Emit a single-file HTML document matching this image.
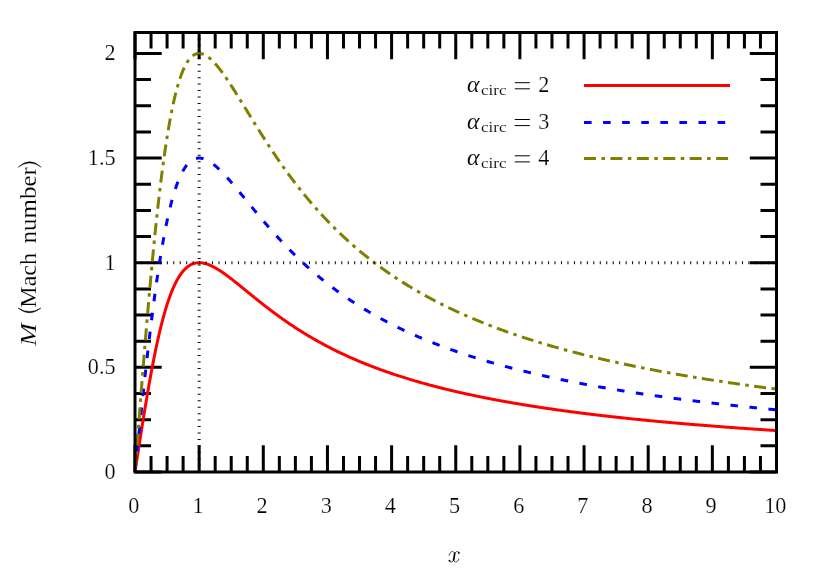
<!DOCTYPE html>
<html><head><meta charset="utf-8"><title>Mach number</title>
<style>
html,body{margin:0;padding:0;background:#fff;}
body{width:830px;height:580px;overflow:hidden;}
svg{display:block;}
text{font-family:"Liberation Serif",serif;font-size:22.2px;fill:#000;stroke:#fff;stroke-width:0.2px;}
</style></head><body>
<svg width="830" height="580" viewBox="0 0 830 580">
<rect width="830" height="580" fill="#fff"/>
<path d="M135.00 472.0 v-26.7 M135.00 32.5 v26.7 M151.04 472.0 v-16 M151.04 32.5 v16 M167.07 472.0 v-16 M167.07 32.5 v16 M183.11 472.0 v-16 M183.11 32.5 v16 M199.15 472.0 v-26.7 M199.15 32.5 v26.7 M215.19 472.0 v-16 M215.19 32.5 v16 M231.22 472.0 v-16 M231.22 32.5 v16 M247.26 472.0 v-16 M247.26 32.5 v16 M263.30 472.0 v-26.7 M263.30 32.5 v26.7 M279.34 472.0 v-16 M279.34 32.5 v16 M295.38 472.0 v-16 M295.38 32.5 v16 M311.41 472.0 v-16 M311.41 32.5 v16 M327.45 472.0 v-26.7 M327.45 32.5 v26.7 M343.49 472.0 v-16 M343.49 32.5 v16 M359.52 472.0 v-16 M359.52 32.5 v16 M375.56 472.0 v-16 M375.56 32.5 v16 M391.60 472.0 v-26.7 M391.60 32.5 v26.7 M407.64 472.0 v-16 M407.64 32.5 v16 M423.68 472.0 v-16 M423.68 32.5 v16 M439.71 472.0 v-16 M439.71 32.5 v16 M455.75 472.0 v-26.7 M455.75 32.5 v26.7 M471.79 472.0 v-16 M471.79 32.5 v16 M487.82 472.0 v-16 M487.82 32.5 v16 M503.86 472.0 v-16 M503.86 32.5 v16 M519.90 472.0 v-26.7 M519.90 32.5 v26.7 M535.94 472.0 v-16 M535.94 32.5 v16 M551.98 472.0 v-16 M551.98 32.5 v16 M568.01 472.0 v-16 M568.01 32.5 v16 M584.05 472.0 v-26.7 M584.05 32.5 v26.7 M600.09 472.0 v-16 M600.09 32.5 v16 M616.12 472.0 v-16 M616.12 32.5 v16 M632.16 472.0 v-16 M632.16 32.5 v16 M648.20 472.0 v-26.7 M648.20 32.5 v26.7 M664.24 472.0 v-16 M664.24 32.5 v16 M680.27 472.0 v-16 M680.27 32.5 v16 M696.31 472.0 v-16 M696.31 32.5 v16 M712.35 472.0 v-26.7 M712.35 32.5 v26.7 M728.39 472.0 v-16 M728.39 32.5 v16 M744.42 472.0 v-16 M744.42 32.5 v16 M760.46 472.0 v-16 M760.46 32.5 v16 M776.50 472.0 v-26.7 M776.50 32.5 v26.7 M135.0 472.00 h26.7 M776.5 472.00 h-26.7 M135.0 445.84 h16 M776.5 445.84 h-16 M135.0 419.68 h16 M776.5 419.68 h-16 M135.0 393.52 h16 M776.5 393.52 h-16 M135.0 367.36 h26.7 M776.5 367.36 h-26.7 M135.0 341.20 h16 M776.5 341.20 h-16 M135.0 315.04 h16 M776.5 315.04 h-16 M135.0 288.88 h16 M776.5 288.88 h-16 M135.0 262.71 h26.7 M776.5 262.71 h-26.7 M135.0 236.55 h16 M776.5 236.55 h-16 M135.0 210.39 h16 M776.5 210.39 h-16 M135.0 184.23 h16 M776.5 184.23 h-16 M135.0 158.07 h26.7 M776.5 158.07 h-26.7 M135.0 131.91 h16 M776.5 131.91 h-16 M135.0 105.75 h16 M776.5 105.75 h-16 M135.0 79.59 h16 M776.5 79.59 h-16 M135.0 53.43 h26.7 M776.5 53.43 h-26.7" stroke="#000" stroke-width="3" fill="none"/>
<polyline points="135.00,472.00 135.80,466.77 136.60,461.54 137.41,456.33 138.21,451.12 139.01,445.94 139.81,440.78 140.61,435.65 141.41,430.56 142.22,425.50 143.02,420.48 143.82,415.51 144.62,410.60 145.42,405.73 146.23,400.93 147.03,396.18 147.83,391.51 148.63,386.90 149.43,382.36 150.24,377.90 151.04,373.51 151.84,369.21 152.64,364.99 153.44,360.85 154.25,356.80 155.05,352.83 155.85,348.96 156.65,345.18 157.45,341.49 158.25,337.89 159.06,334.39 159.86,330.98 160.66,327.67 161.46,324.45 162.26,321.32 163.07,318.30 163.87,315.36 164.67,312.52 165.47,309.78 166.27,307.13 167.07,304.57 167.88,302.11 168.68,299.73 169.48,297.45 170.28,295.25 171.08,293.14 171.89,291.12 172.69,289.19 173.49,287.34 174.29,285.57 175.09,283.88 175.90,282.27 176.70,280.74 177.50,279.28 178.30,277.90 179.10,276.59 179.91,275.36 180.71,274.19 181.51,273.09 182.31,272.05 183.11,271.09 183.91,270.18 184.72,269.33 185.52,268.55 186.32,267.82 187.12,267.15 187.92,266.53 188.73,265.96 189.53,265.45 190.33,264.98 191.13,264.57 191.93,264.20 192.74,263.87 193.54,263.59 194.34,263.35 195.14,263.15 195.94,262.99 196.74,262.87 197.55,262.78 198.35,262.73 199.15,262.71 199.95,262.73 200.75,262.78 201.56,262.86 202.36,262.96 203.16,263.10 203.96,263.26 204.76,263.45 205.56,263.66 206.37,263.90 207.17,264.16 207.97,264.44 208.77,264.74 209.57,265.06 210.38,265.41 211.18,265.77 211.98,266.15 212.78,266.54 213.58,266.95 214.39,267.38 215.19,267.82 215.99,268.27 216.79,268.74 217.59,269.22 218.40,269.72 219.20,270.22 220.00,270.74 220.80,271.26 221.60,271.80 222.40,272.34 223.21,272.90 224.01,273.46 224.81,274.03 225.61,274.60 226.41,275.19 227.22,275.78 228.02,276.37 228.82,276.98 229.62,277.58 230.42,278.20 231.22,278.81 232.03,279.43 232.83,280.06 233.63,280.69 234.43,281.32 235.23,281.96 236.04,282.59 236.84,283.24 237.64,283.88 238.44,284.52 239.24,285.17 240.05,285.82 240.85,286.47 241.65,287.12 242.45,287.77 243.25,288.42 244.06,289.08 244.86,289.73 245.66,290.38 246.46,291.04 247.26,291.69 248.06,292.35 248.87,293.00 249.67,293.65 250.47,294.30 251.27,294.96 252.07,295.61 252.88,296.26 253.68,296.91 254.48,297.55 255.28,298.20 256.08,298.84 256.88,299.49 257.69,300.13 258.49,300.77 259.29,301.41 260.09,302.04 260.89,302.68 261.70,303.31 262.50,303.94 263.30,304.57 264.10,305.20 264.90,305.82 265.71,306.45 266.51,307.07 267.31,307.68 268.11,308.30 268.91,308.91 269.72,309.52 270.52,310.13 271.32,310.74 272.12,311.34 272.92,311.94 273.72,312.54 274.53,313.14 275.33,313.73 276.13,314.32 276.93,314.91 277.73,315.49 278.54,316.07 279.34,316.65 280.14,317.23 280.94,317.81 281.74,318.38 282.54,318.95 283.35,319.51 284.15,320.07 284.95,320.63 285.75,321.19 286.55,321.75 287.36,322.30 288.16,322.85 288.96,323.39 289.76,323.94 290.56,324.48 291.37,325.02 292.17,325.55 292.97,326.08 293.77,326.61 294.57,327.14 295.38,327.67 296.18,328.19 296.98,328.70 297.78,329.22 298.58,329.73 299.38,330.24 300.19,330.75 300.99,331.26 301.79,331.76 302.59,332.26 303.39,332.75 304.20,333.25 305.00,333.74 305.80,334.23 306.60,334.71 307.40,335.19 308.21,335.67 309.01,336.15 309.81,336.63 310.61,337.10 311.41,337.57 312.21,338.04 313.02,338.50 313.82,338.96 314.62,339.42 315.42,339.88 316.22,340.33 317.03,340.78 317.83,341.23 318.63,341.68 319.43,342.12 320.23,342.56 321.03,343.00 321.84,343.44 322.64,343.87 323.44,344.31 324.24,344.74 325.04,345.16 325.85,345.59 326.65,346.01 327.45,346.43 328.25,346.85 329.05,347.26 329.86,347.67 330.66,348.08 331.46,348.49 332.26,348.90 333.06,349.30 333.87,349.70 334.67,350.10 335.47,350.50 336.27,350.89 337.07,351.29 337.87,351.68 338.68,352.06 339.48,352.45 340.28,352.83 341.08,353.22 341.88,353.59 342.69,353.97 343.49,354.35 344.29,354.72 345.09,355.09 345.89,355.46 346.69,355.83 347.50,356.19 348.30,356.56 349.10,356.92 349.90,357.28 350.70,357.63 351.51,357.99 352.31,358.34 353.11,358.69 353.91,359.04 354.71,359.39 355.52,359.73 356.32,360.08 357.12,360.42 357.92,360.76 358.72,361.10 359.52,361.43 360.33,361.77 361.13,362.10 361.93,362.43 362.73,362.76 363.53,363.09 364.34,363.41 365.14,363.74 365.94,364.06 366.74,364.38 367.54,364.70 368.35,365.01 369.15,365.33 369.95,365.64 370.75,365.95 371.55,366.27 372.36,366.57 373.16,366.88 373.96,367.19 374.76,367.49 375.56,367.79 376.36,368.09 377.17,368.39 377.97,368.69 378.77,368.98 379.57,369.28 380.37,369.57 381.18,369.86 381.98,370.15 382.78,370.44 383.58,370.73 384.38,371.01 385.19,371.29 385.99,371.58 386.79,371.86 387.59,372.14 388.39,372.42 389.19,372.69 390.00,372.97 390.80,373.24 391.60,373.51 392.40,373.78 393.20,374.05 394.01,374.32 394.81,374.59 395.61,374.85 396.41,375.12 397.21,375.38 398.01,375.64 398.82,375.90 399.62,376.16 400.42,376.42 401.22,376.67 402.02,376.93 402.83,377.18 403.63,377.44 404.43,377.69 405.23,377.94 406.03,378.19 406.84,378.43 407.64,378.68 408.44,378.92 409.24,379.17 410.04,379.41 410.84,379.65 411.65,379.89 412.45,380.13 413.25,380.37 414.05,380.61 414.85,380.84 415.66,381.08 416.46,381.31 417.26,381.54 418.06,381.77 418.86,382.00 419.67,382.23 420.47,382.46 421.27,382.69 422.07,382.91 422.87,383.14 423.68,383.36 424.48,383.58 425.28,383.81 426.08,384.03 426.88,384.25 427.68,384.46 428.49,384.68 429.29,384.90 430.09,385.11 430.89,385.33 431.69,385.54 432.50,385.75 433.30,385.96 434.10,386.17 434.90,386.38 435.70,386.59 436.50,386.80 437.31,387.01 438.11,387.21 438.91,387.42 439.71,387.62 440.51,387.82 441.32,388.02 442.12,388.23 442.92,388.43 443.72,388.62 444.52,388.82 445.33,389.02 446.13,389.22 446.93,389.41 447.73,389.61 448.53,389.80 449.34,389.99 450.14,390.18 450.94,390.38 451.74,390.57 452.54,390.76 453.34,390.94 454.15,391.13 454.95,391.32 455.75,391.51 456.55,391.69 457.35,391.88 458.16,392.06 458.96,392.24 459.76,392.42 460.56,392.61 461.36,392.79 462.16,392.97 462.97,393.14 463.77,393.32 464.57,393.50 465.37,393.68 466.17,393.85 466.98,394.03 467.78,394.20 468.58,394.38 469.38,394.55 470.18,394.72 470.99,394.89 471.79,395.06 472.59,395.23 473.39,395.40 474.19,395.57 475.00,395.74 475.80,395.91 476.60,396.07 477.40,396.24 478.20,396.40 479.00,396.57 479.81,396.73 480.61,396.89 481.41,397.06 482.21,397.22 483.01,397.38 483.82,397.54 484.62,397.70 485.42,397.86 486.22,398.02 487.02,398.17 487.82,398.33 488.63,398.49 489.43,398.64 490.23,398.80 491.03,398.95 491.83,399.11 492.64,399.26 493.44,399.41 494.24,399.56 495.04,399.72 495.84,399.87 496.65,400.02 497.45,400.17 498.25,400.32 499.05,400.46 499.85,400.61 500.66,400.76 501.46,400.91 502.26,401.05 503.06,401.20 503.86,401.34 504.66,401.49 505.47,401.63 506.27,401.77 507.07,401.92 507.87,402.06 508.67,402.20 509.48,402.34 510.28,402.48 511.08,402.62 511.88,402.76 512.68,402.90 513.49,403.04 514.29,403.17 515.09,403.31 515.89,403.45 516.69,403.58 517.49,403.72 518.30,403.85 519.10,403.99 519.90,404.12 520.70,404.26 521.50,404.39 522.31,404.52 523.11,404.65 523.91,404.79 524.71,404.92 525.51,405.05 526.31,405.18 527.12,405.31 527.92,405.44 528.72,405.56 529.52,405.69 530.32,405.82 531.13,405.95 531.93,406.07 532.73,406.20 533.53,406.33 534.33,406.45 535.14,406.58 535.94,406.70 536.74,406.82 537.54,406.95 538.34,407.07 539.14,407.19 539.95,407.31 540.75,407.44 541.55,407.56 542.35,407.68 543.15,407.80 543.96,407.92 544.76,408.04 545.56,408.16 546.36,408.28 547.16,408.39 547.97,408.51 548.77,408.63 549.57,408.75 550.37,408.86 551.17,408.98 551.98,409.09 552.78,409.21 553.58,409.32 554.38,409.44 555.18,409.55 555.98,409.67 556.79,409.78 557.59,409.89 558.39,410.00 559.19,410.12 559.99,410.23 560.80,410.34 561.60,410.45 562.40,410.56 563.20,410.67 564.00,410.78 564.81,410.89 565.61,411.00 566.41,411.11 567.21,411.21 568.01,411.32 568.81,411.43 569.62,411.54 570.42,411.64 571.22,411.75 572.02,411.85 572.82,411.96 573.63,412.06 574.43,412.17 575.23,412.27 576.03,412.38 576.83,412.48 577.63,412.59 578.44,412.69 579.24,412.79 580.04,412.89 580.84,413.00 581.64,413.10 582.45,413.20 583.25,413.30 584.05,413.40 584.85,413.50 585.65,413.60 586.46,413.70 587.26,413.80 588.06,413.90 588.86,414.00 589.66,414.10 590.46,414.19 591.27,414.29 592.07,414.39 592.87,414.49 593.67,414.58 594.47,414.68 595.28,414.77 596.08,414.87 596.88,414.97 597.68,415.06 598.48,415.16 599.29,415.25 600.09,415.34 600.89,415.44 601.69,415.53 602.49,415.62 603.29,415.72 604.10,415.81 604.90,415.90 605.70,415.99 606.50,416.09 607.30,416.18 608.11,416.27 608.91,416.36 609.71,416.45 610.51,416.54 611.31,416.63 612.12,416.72 612.92,416.81 613.72,416.90 614.52,416.99 615.32,417.08 616.12,417.17 616.93,417.25 617.73,417.34 618.53,417.43 619.33,417.52 620.13,417.60 620.94,417.69 621.74,417.78 622.54,417.86 623.34,417.95 624.14,418.03 624.95,418.12 625.75,418.20 626.55,418.29 627.35,418.37 628.15,418.46 628.96,418.54 629.76,418.63 630.56,418.71 631.36,418.79 632.16,418.88 632.96,418.96 633.77,419.04 634.57,419.12 635.37,419.20 636.17,419.29 636.97,419.37 637.78,419.45 638.58,419.53 639.38,419.61 640.18,419.69 640.98,419.77 641.79,419.85 642.59,419.93 643.39,420.01 644.19,420.09 644.99,420.17 645.79,420.25 646.60,420.33 647.40,420.41 648.20,420.48 649.00,420.56 649.80,420.64 650.61,420.72 651.41,420.79 652.21,420.87 653.01,420.95 653.81,421.02 654.62,421.10 655.42,421.18 656.22,421.25 657.02,421.33 657.82,421.40 658.62,421.48 659.43,421.55 660.23,421.63 661.03,421.70 661.83,421.78 662.63,421.85 663.44,421.93 664.24,422.00 665.04,422.07 665.84,422.15 666.64,422.22 667.45,422.29 668.25,422.36 669.05,422.44 669.85,422.51 670.65,422.58 671.45,422.65 672.26,422.72 673.06,422.80 673.86,422.87 674.66,422.94 675.46,423.01 676.27,423.08 677.07,423.15 677.87,423.22 678.67,423.29 679.47,423.36 680.27,423.43 681.08,423.50 681.88,423.57 682.68,423.64 683.48,423.70 684.28,423.77 685.09,423.84 685.89,423.91 686.69,423.98 687.49,424.05 688.29,424.11 689.10,424.18 689.90,424.25 690.70,424.32 691.50,424.38 692.30,424.45 693.10,424.52 693.91,424.58 694.71,424.65 695.51,424.71 696.31,424.78 697.11,424.85 697.92,424.91 698.72,424.98 699.52,425.04 700.32,425.11 701.12,425.17 701.93,425.24 702.73,425.30 703.53,425.36 704.33,425.43 705.13,425.49 705.94,425.56 706.74,425.62 707.54,425.68 708.34,425.75 709.14,425.81 709.94,425.87 710.75,425.93 711.55,426.00 712.35,426.06 713.15,426.12 713.95,426.18 714.76,426.25 715.56,426.31 716.36,426.37 717.16,426.43 717.96,426.49 718.76,426.55 719.57,426.61 720.37,426.67 721.17,426.73 721.97,426.79 722.77,426.85 723.58,426.91 724.38,426.97 725.18,427.03 725.98,427.09 726.78,427.15 727.59,427.21 728.39,427.27 729.19,427.33 729.99,427.39 730.79,427.45 731.60,427.51 732.40,427.57 733.20,427.62 734.00,427.68 734.80,427.74 735.60,427.80 736.41,427.85 737.21,427.91 738.01,427.97 738.81,428.03 739.61,428.08 740.42,428.14 741.22,428.20 742.02,428.25 742.82,428.31 743.62,428.37 744.42,428.42 745.23,428.48 746.03,428.53 746.83,428.59 747.63,428.65 748.43,428.70 749.24,428.76 750.04,428.81 750.84,428.87 751.64,428.92 752.44,428.98 753.25,429.03 754.05,429.09 754.85,429.14 755.65,429.19 756.45,429.25 757.25,429.30 758.06,429.36 758.86,429.41 759.66,429.46 760.46,429.52 761.26,429.57 762.07,429.62 762.87,429.68 763.67,429.73 764.47,429.78 765.27,429.83 766.08,429.89 766.88,429.94 767.68,429.99 768.48,430.04 769.28,430.10 770.09,430.15 770.89,430.20 771.69,430.25 772.49,430.30 773.29,430.35 774.09,430.40 774.90,430.46 775.70,430.51 776.50,430.56" fill="none" stroke="#ff0000" stroke-width="3" stroke-linejoin="round" />
<polyline points="135.00,472.00 135.80,464.15 136.60,456.31 137.41,448.49 138.21,440.69 139.01,432.91 139.81,425.17 140.61,417.48 141.41,409.84 142.22,402.25 143.02,394.73 143.82,387.27 144.62,379.89 145.42,372.60 146.23,365.39 147.03,358.27 147.83,351.26 148.63,344.34 149.43,337.54 150.24,330.85 151.04,324.27 151.84,317.81 152.64,311.48 153.44,305.27 154.25,299.20 155.05,293.25 155.85,287.44 156.65,281.77 157.45,276.23 158.25,270.84 159.06,265.58 159.86,260.47 160.66,255.50 161.46,250.67 162.26,245.98 163.07,241.44 163.87,237.04 164.67,232.79 165.47,228.67 166.27,224.69 167.07,220.86 167.88,217.16 168.68,213.60 169.48,210.17 170.28,206.88 171.08,203.72 171.89,200.69 172.69,197.78 173.49,195.00 174.29,192.35 175.09,189.82 175.90,187.40 176.70,185.11 177.50,182.92 178.30,180.85 179.10,178.89 179.91,177.03 180.71,175.28 181.51,173.63 182.31,172.08 183.11,170.63 183.91,169.27 184.72,168.00 185.52,166.82 186.32,165.73 187.12,164.72 187.92,163.79 188.73,162.94 189.53,162.17 190.33,161.47 191.13,160.85 191.93,160.29 192.74,159.81 193.54,159.38 194.34,159.02 195.14,158.72 195.94,158.48 196.74,158.30 197.55,158.17 198.35,158.10 199.15,158.07 199.95,158.10 200.75,158.17 201.56,158.28 202.36,158.44 203.16,158.65 203.96,158.89 204.76,159.17 205.56,159.49 206.37,159.85 207.17,160.24 207.97,160.66 208.77,161.11 209.57,161.60 210.38,162.11 211.18,162.65 211.98,163.22 212.78,163.81 213.58,164.43 214.39,165.07 215.19,165.73 215.99,166.41 216.79,167.11 217.59,167.83 218.40,168.57 219.20,169.33 220.00,170.10 220.80,170.89 221.60,171.70 222.40,172.51 223.21,173.34 224.01,174.19 224.81,175.04 225.61,175.91 226.41,176.78 227.22,177.67 228.02,178.56 228.82,179.46 229.62,180.38 230.42,181.29 231.22,182.22 232.03,183.15 232.83,184.09 233.63,185.03 234.43,185.98 235.23,186.93 236.04,187.89 236.84,188.85 237.64,189.82 238.44,190.78 239.24,191.75 240.05,192.73 240.85,193.70 241.65,194.68 242.45,195.66 243.25,196.64 244.06,197.62 244.86,198.60 245.66,199.58 246.46,200.56 247.26,201.54 248.06,202.52 248.87,203.50 249.67,204.48 250.47,205.46 251.27,206.43 252.07,207.41 252.88,208.38 253.68,209.36 254.48,210.33 255.28,211.30 256.08,212.27 256.88,213.23 257.69,214.19 258.49,215.15 259.29,216.11 260.09,217.07 260.89,218.02 261.70,218.97 262.50,219.91 263.30,220.86 264.10,221.80 264.90,222.73 265.71,223.67 266.51,224.60 267.31,225.53 268.11,226.45 268.91,227.37 269.72,228.28 270.52,229.20 271.32,230.11 272.12,231.01 272.92,231.91 273.72,232.81 274.53,233.70 275.33,234.59 276.13,235.48 276.93,236.36 277.73,237.24 278.54,238.11 279.34,238.98 280.14,239.85 280.94,240.71 281.74,241.56 282.54,242.42 283.35,243.27 284.15,244.11 284.95,244.95 285.75,245.79 286.55,246.62 287.36,247.45 288.16,248.27 288.96,249.09 289.76,249.91 290.56,250.72 291.37,251.53 292.17,252.33 292.97,253.13 293.77,253.92 294.57,254.71 295.38,255.50 296.18,256.28 296.98,257.06 297.78,257.83 298.58,258.60 299.38,259.36 300.19,260.13 300.99,260.88 301.79,261.64 302.59,262.38 303.39,263.13 304.20,263.87 305.00,264.61 305.80,265.34 306.60,266.07 307.40,266.79 308.21,267.51 309.01,268.23 309.81,268.94 310.61,269.65 311.41,270.35 312.21,271.05 313.02,271.75 313.82,272.44 314.62,273.13 315.42,273.82 316.22,274.50 317.03,275.17 317.83,275.85 318.63,276.52 319.43,277.18 320.23,277.85 321.03,278.51 321.84,279.16 322.64,279.81 323.44,280.46 324.24,281.10 325.04,281.74 325.85,282.38 326.65,283.01 327.45,283.64 328.25,284.27 329.05,284.89 329.86,285.51 330.66,286.13 331.46,286.74 332.26,287.35 333.06,287.95 333.87,288.55 334.67,289.15 335.47,289.75 336.27,290.34 337.07,290.93 337.87,291.51 338.68,292.10 339.48,292.68 340.28,293.25 341.08,293.82 341.88,294.39 342.69,294.96 343.49,295.52 344.29,296.08 345.09,296.64 345.89,297.19 346.69,297.74 347.50,298.29 348.30,298.83 349.10,299.38 349.90,299.91 350.70,300.45 351.51,300.98 352.31,301.51 353.11,302.04 353.91,302.56 354.71,303.08 355.52,303.60 356.32,304.12 357.12,304.63 357.92,305.14 358.72,305.65 359.52,306.15 360.33,306.65 361.13,307.15 361.93,307.65 362.73,308.14 363.53,308.63 364.34,309.12 365.14,309.61 365.94,310.09 366.74,310.57 367.54,311.05 368.35,311.52 369.15,311.99 369.95,312.46 370.75,312.93 371.55,313.40 372.36,313.86 373.16,314.32 373.96,314.78 374.76,315.23 375.56,315.69 376.36,316.14 377.17,316.59 377.97,317.03 378.77,317.48 379.57,317.92 380.37,318.36 381.18,318.79 381.98,319.23 382.78,319.66 383.58,320.09 384.38,320.52 385.19,320.94 385.99,321.37 386.79,321.79 387.59,322.21 388.39,322.62 389.19,323.04 390.00,323.45 390.80,323.86 391.60,324.27 392.40,324.68 393.20,325.08 394.01,325.48 394.81,325.88 395.61,326.28 396.41,326.68 397.21,327.07 398.01,327.46 398.82,327.85 399.62,328.24 400.42,328.63 401.22,329.01 402.02,329.39 402.83,329.77 403.63,330.15 404.43,330.53 405.23,330.90 406.03,331.28 406.84,331.65 407.64,332.02 408.44,332.39 409.24,332.75 410.04,333.12 410.84,333.48 411.65,333.84 412.45,334.20 413.25,334.55 414.05,334.91 414.85,335.26 415.66,335.62 416.46,335.97 417.26,336.31 418.06,336.66 418.86,337.01 419.67,337.35 420.47,337.69 421.27,338.03 422.07,338.37 422.87,338.71 423.68,339.04 424.48,339.38 425.28,339.71 426.08,340.04 426.88,340.37 427.68,340.70 428.49,341.02 429.29,341.35 430.09,341.67 430.89,341.99 431.69,342.31 432.50,342.63 433.30,342.95 434.10,343.26 434.90,343.58 435.70,343.89 436.50,344.20 437.31,344.51 438.11,344.82 438.91,345.12 439.71,345.43 440.51,345.73 441.32,346.04 442.12,346.34 442.92,346.64 443.72,346.94 444.52,347.23 445.33,347.53 446.13,347.82 446.93,348.12 447.73,348.41 448.53,348.70 449.34,348.99 450.14,349.28 450.94,349.56 451.74,349.85 452.54,350.13 453.34,350.42 454.15,350.70 454.95,350.98 455.75,351.26 456.55,351.54 457.35,351.81 458.16,352.09 458.96,352.36 459.76,352.64 460.56,352.91 461.36,353.18 462.16,353.45 462.97,353.72 463.77,353.98 464.57,354.25 465.37,354.52 466.17,354.78 466.98,355.04 467.78,355.30 468.58,355.56 469.38,355.82 470.18,356.08 470.99,356.34 471.79,356.60 472.59,356.85 473.39,357.10 474.19,357.36 475.00,357.61 475.80,357.86 476.60,358.11 477.40,358.36 478.20,358.61 479.00,358.85 479.81,359.10 480.61,359.34 481.41,359.59 482.21,359.83 483.01,360.07 483.82,360.31 484.62,360.55 485.42,360.79 486.22,361.03 487.02,361.26 487.82,361.50 488.63,361.73 489.43,361.97 490.23,362.20 491.03,362.43 491.83,362.66 492.64,362.89 493.44,363.12 494.24,363.35 495.04,363.57 495.84,363.80 496.65,364.03 497.45,364.25 498.25,364.47 499.05,364.70 499.85,364.92 500.66,365.14 501.46,365.36 502.26,365.58 503.06,365.80 503.86,366.01 504.66,366.23 505.47,366.45 506.27,366.66 507.07,366.87 507.87,367.09 508.67,367.30 509.48,367.51 510.28,367.72 511.08,367.93 511.88,368.14 512.68,368.35 513.49,368.56 514.29,368.76 515.09,368.97 515.89,369.17 516.69,369.38 517.49,369.58 518.30,369.78 519.10,369.98 519.90,370.19 520.70,370.39 521.50,370.59 522.31,370.78 523.11,370.98 523.91,371.18 524.71,371.38 525.51,371.57 526.31,371.77 527.12,371.96 527.92,372.15 528.72,372.35 529.52,372.54 530.32,372.73 531.13,372.92 531.93,373.11 532.73,373.30 533.53,373.49 534.33,373.68 535.14,373.86 535.94,374.05 536.74,374.24 537.54,374.42 538.34,374.61 539.14,374.79 539.95,374.97 540.75,375.15 541.55,375.34 542.35,375.52 543.15,375.70 543.96,375.88 544.76,376.06 545.56,376.24 546.36,376.41 547.16,376.59 547.97,376.77 548.77,376.94 549.57,377.12 550.37,377.29 551.17,377.47 551.98,377.64 552.78,377.81 553.58,377.98 554.38,378.16 555.18,378.33 555.98,378.50 556.79,378.67 557.59,378.84 558.39,379.01 559.19,379.17 559.99,379.34 560.80,379.51 561.60,379.67 562.40,379.84 563.20,380.00 564.00,380.17 564.81,380.33 565.61,380.50 566.41,380.66 567.21,380.82 568.01,380.98 568.81,381.14 569.62,381.30 570.42,381.46 571.22,381.62 572.02,381.78 572.82,381.94 573.63,382.10 574.43,382.25 575.23,382.41 576.03,382.57 576.83,382.72 577.63,382.88 578.44,383.03 579.24,383.19 580.04,383.34 580.84,383.49 581.64,383.65 582.45,383.80 583.25,383.95 584.05,384.10 584.85,384.25 585.65,384.40 586.46,384.55 587.26,384.70 588.06,384.85 588.86,385.00 589.66,385.14 590.46,385.29 591.27,385.44 592.07,385.58 592.87,385.73 593.67,385.87 594.47,386.02 595.28,386.16 596.08,386.30 596.88,386.45 597.68,386.59 598.48,386.73 599.29,386.87 600.09,387.02 600.89,387.16 601.69,387.30 602.49,387.44 603.29,387.58 604.10,387.72 604.90,387.85 605.70,387.99 606.50,388.13 607.30,388.27 608.11,388.40 608.91,388.54 609.71,388.68 610.51,388.81 611.31,388.95 612.12,389.08 612.92,389.22 613.72,389.35 614.52,389.48 615.32,389.62 616.12,389.75 616.93,389.88 617.73,390.01 618.53,390.14 619.33,390.27 620.13,390.40 620.94,390.53 621.74,390.66 622.54,390.79 623.34,390.92 624.14,391.05 624.95,391.18 625.75,391.31 626.55,391.43 627.35,391.56 628.15,391.69 628.96,391.81 629.76,391.94 630.56,392.06 631.36,392.19 632.16,392.31 632.96,392.44 633.77,392.56 634.57,392.68 635.37,392.81 636.17,392.93 636.97,393.05 637.78,393.17 638.58,393.30 639.38,393.42 640.18,393.54 640.98,393.66 641.79,393.78 642.59,393.90 643.39,394.02 644.19,394.14 644.99,394.25 645.79,394.37 646.60,394.49 647.40,394.61 648.20,394.73 649.00,394.84 649.80,394.96 650.61,395.07 651.41,395.19 652.21,395.31 653.01,395.42 653.81,395.54 654.62,395.65 655.42,395.76 656.22,395.88 657.02,395.99 657.82,396.10 658.62,396.22 659.43,396.33 660.23,396.44 661.03,396.55 661.83,396.67 662.63,396.78 663.44,396.89 664.24,397.00 665.04,397.11 665.84,397.22 666.64,397.33 667.45,397.44 668.25,397.55 669.05,397.65 669.85,397.76 670.65,397.87 671.45,397.98 672.26,398.09 673.06,398.19 673.86,398.30 674.66,398.41 675.46,398.51 676.27,398.62 677.07,398.72 677.87,398.83 678.67,398.93 679.47,399.04 680.27,399.14 681.08,399.25 681.88,399.35 682.68,399.45 683.48,399.56 684.28,399.66 685.09,399.76 685.89,399.87 686.69,399.97 687.49,400.07 688.29,400.17 689.10,400.27 689.90,400.37 690.70,400.47 691.50,400.57 692.30,400.67 693.10,400.77 693.91,400.87 694.71,400.97 695.51,401.07 696.31,401.17 697.11,401.27 697.92,401.37 698.72,401.46 699.52,401.56 700.32,401.66 701.12,401.76 701.93,401.85 702.73,401.95 703.53,402.05 704.33,402.14 705.13,402.24 705.94,402.33 706.74,402.43 707.54,402.52 708.34,402.62 709.14,402.71 709.94,402.81 710.75,402.90 711.55,403.00 712.35,403.09 713.15,403.18 713.95,403.28 714.76,403.37 715.56,403.46 716.36,403.55 717.16,403.64 717.96,403.74 718.76,403.83 719.57,403.92 720.37,404.01 721.17,404.10 721.97,404.19 722.77,404.28 723.58,404.37 724.38,404.46 725.18,404.55 725.98,404.64 726.78,404.73 727.59,404.82 728.39,404.91 729.19,405.00 729.99,405.08 730.79,405.17 731.60,405.26 732.40,405.35 733.20,405.43 734.00,405.52 734.80,405.61 735.60,405.70 736.41,405.78 737.21,405.87 738.01,405.95 738.81,406.04 739.61,406.13 740.42,406.21 741.22,406.30 742.02,406.38 742.82,406.47 743.62,406.55 744.42,406.63 745.23,406.72 746.03,406.80 746.83,406.89 747.63,406.97 748.43,407.05 749.24,407.13 750.04,407.22 750.84,407.30 751.64,407.38 752.44,407.46 753.25,407.55 754.05,407.63 754.85,407.71 755.65,407.79 756.45,407.87 757.25,407.95 758.06,408.03 758.86,408.11 759.66,408.19 760.46,408.27 761.26,408.35 762.07,408.43 762.87,408.51 763.67,408.59 764.47,408.67 765.27,408.75 766.08,408.83 766.88,408.91 767.68,408.99 768.48,409.06 769.28,409.14 770.09,409.22 770.89,409.30 771.69,409.38 772.49,409.45 773.29,409.53 774.09,409.61 774.90,409.68 775.70,409.76 776.50,409.84" fill="none" stroke="#0000ff" stroke-width="3" stroke-linejoin="round" stroke-dasharray="7.6 11.483"/>
<polyline points="135.00,472.00 135.80,461.54 136.60,451.08 137.41,440.65 138.21,430.25 139.01,419.88 139.81,409.57 140.61,399.31 141.41,389.11 142.22,379.00 143.02,368.97 143.82,359.03 144.62,349.19 145.42,339.46 146.23,329.85 147.03,320.37 147.83,311.01 148.63,301.79 149.43,292.72 150.24,283.79 151.04,275.03 151.84,266.42 152.64,257.97 153.44,249.70 154.25,241.59 155.05,233.67 155.85,225.92 156.65,218.36 157.45,210.98 158.25,203.78 159.06,196.77 159.86,189.96 160.66,183.33 161.46,176.89 162.26,170.65 163.07,164.59 163.87,158.72 164.67,153.05 165.47,147.56 166.27,142.26 167.07,137.14 167.88,132.21 168.68,127.46 169.48,122.89 170.28,118.50 171.08,114.29 171.89,110.25 172.69,106.38 173.49,102.67 174.29,99.13 175.09,95.76 175.90,92.54 176.70,89.47 177.50,86.56 178.30,83.80 179.10,81.19 179.91,78.71 180.71,76.38 181.51,74.18 182.31,72.11 183.11,70.17 183.91,68.36 184.72,66.67 185.52,65.09 186.32,63.64 187.12,62.29 187.92,61.06 188.73,59.92 189.53,58.90 190.33,57.97 191.13,57.13 191.93,56.39 192.74,55.74 193.54,55.18 194.34,54.70 195.14,54.30 195.94,53.98 196.74,53.73 197.55,53.56 198.35,53.46 199.15,53.43 199.95,53.46 200.75,53.56 201.56,53.71 202.36,53.93 203.16,54.20 203.96,54.52 204.76,54.90 205.56,55.32 206.37,55.80 207.17,56.32 207.97,56.88 208.77,57.48 209.57,58.13 210.38,58.81 211.18,59.53 211.98,60.29 212.78,61.08 213.58,61.90 214.39,62.76 215.19,63.64 215.99,64.55 216.79,65.48 217.59,66.45 218.40,67.43 219.20,68.44 220.00,69.47 220.80,70.52 221.60,71.60 222.40,72.68 223.21,73.79 224.01,74.91 224.81,76.05 225.61,77.21 226.41,78.38 227.22,79.56 228.02,80.75 228.82,81.95 229.62,83.17 230.42,84.39 231.22,85.63 232.03,86.87 232.83,88.12 233.63,89.38 234.43,90.64 235.23,91.91 236.04,93.19 236.84,94.47 237.64,95.76 238.44,97.05 239.24,98.34 240.05,99.64 240.85,100.94 241.65,102.24 242.45,103.54 243.25,104.85 244.06,106.15 244.86,107.46 245.66,108.77 246.46,110.08 247.26,111.38 248.06,112.69 248.87,114.00 249.67,115.30 250.47,116.61 251.27,117.91 252.07,119.21 252.88,120.51 253.68,121.81 254.48,123.11 255.28,124.40 256.08,125.69 256.88,126.97 257.69,128.26 258.49,129.54 259.29,130.81 260.09,132.09 260.89,133.36 261.70,134.62 262.50,135.89 263.30,137.14 264.10,138.40 264.90,139.65 265.71,140.89 266.51,142.13 267.31,143.37 268.11,144.60 268.91,145.82 269.72,147.05 270.52,148.26 271.32,149.47 272.12,150.68 272.92,151.88 273.72,153.08 274.53,154.27 275.33,155.46 276.13,156.64 276.93,157.81 277.73,158.98 278.54,160.15 279.34,161.31 280.14,162.46 280.94,163.61 281.74,164.75 282.54,165.89 283.35,167.02 284.15,168.15 284.95,169.27 285.75,170.38 286.55,171.49 287.36,172.60 288.16,173.70 288.96,174.79 289.76,175.88 290.56,176.96 291.37,178.03 292.17,179.10 292.97,180.17 293.77,181.23 294.57,182.28 295.38,183.33 296.18,184.37 296.98,185.41 297.78,186.44 298.58,187.47 299.38,188.49 300.19,189.50 300.99,190.51 301.79,191.51 302.59,192.51 303.39,193.50 304.20,194.49 305.00,195.47 305.80,196.45 306.60,197.42 307.40,198.39 308.21,199.35 309.01,200.30 309.81,201.25 310.61,202.20 311.41,203.14 312.21,204.07 313.02,205.00 313.82,205.92 314.62,206.84 315.42,207.75 316.22,208.66 317.03,209.57 317.83,210.46 318.63,211.36 319.43,212.25 320.23,213.13 321.03,214.01 321.84,214.88 322.64,215.75 323.44,216.61 324.24,217.47 325.04,218.32 325.85,219.17 326.65,220.02 327.45,220.86 328.25,221.69 329.05,222.52 329.86,223.35 330.66,224.17 331.46,224.98 332.26,225.80 333.06,226.60 333.87,227.41 334.67,228.20 335.47,229.00 336.27,229.79 337.07,230.57 337.87,231.35 338.68,232.13 339.48,232.90 340.28,233.67 341.08,234.43 341.88,235.19 342.69,235.94 343.49,236.69 344.29,237.44 345.09,238.18 345.89,238.92 346.69,239.66 347.50,240.39 348.30,241.11 349.10,241.83 349.90,242.55 350.70,243.27 351.51,243.98 352.31,244.68 353.11,245.38 353.91,246.08 354.71,246.78 355.52,247.47 356.32,248.16 357.12,248.84 357.92,249.52 358.72,250.20 359.52,250.87 360.33,251.54 361.13,252.20 361.93,252.86 362.73,253.52 363.53,254.18 364.34,254.83 365.14,255.47 365.94,256.12 366.74,256.76 367.54,257.40 368.35,258.03 369.15,258.66 369.95,259.29 370.75,259.91 371.55,260.53 372.36,261.15 373.16,261.76 373.96,262.37 374.76,262.98 375.56,263.58 376.36,264.18 377.17,264.78 377.97,265.38 378.77,265.97 379.57,266.56 380.37,267.14 381.18,267.72 381.98,268.30 382.78,268.88 383.58,269.45 384.38,270.02 385.19,270.59 385.99,271.15 386.79,271.72 387.59,272.27 388.39,272.83 389.19,273.38 390.00,273.93 390.80,274.48 391.60,275.03 392.40,275.57 393.20,276.11 394.01,276.64 394.81,277.18 395.61,277.71 396.41,278.23 397.21,278.76 398.01,279.28 398.82,279.80 399.62,280.32 400.42,280.84 401.22,281.35 402.02,281.86 402.83,282.37 403.63,282.87 404.43,283.37 405.23,283.87 406.03,284.37 406.84,284.87 407.64,285.36 408.44,285.85 409.24,286.34 410.04,286.82 410.84,287.30 411.65,287.79 412.45,288.26 413.25,288.74 414.05,289.21 414.85,289.68 415.66,290.15 416.46,290.62 417.26,291.09 418.06,291.55 418.86,292.01 419.67,292.47 420.47,292.92 421.27,293.37 422.07,293.83 422.87,294.28 423.68,294.72 424.48,295.17 425.28,295.61 426.08,296.05 426.88,296.49 427.68,296.93 428.49,297.36 429.29,297.79 430.09,298.22 430.89,298.65 431.69,299.08 432.50,299.50 433.30,299.93 434.10,300.35 434.90,300.77 435.70,301.18 436.50,301.60 437.31,302.01 438.11,302.42 438.91,302.83 439.71,303.24 440.51,303.64 441.32,304.05 442.12,304.45 442.92,304.85 443.72,305.25 444.52,305.64 445.33,306.04 446.13,306.43 446.93,306.82 447.73,307.21 448.53,307.60 449.34,307.99 450.14,308.37 450.94,308.75 451.74,309.13 452.54,309.51 453.34,309.89 454.15,310.26 454.95,310.64 455.75,311.01 456.55,311.38 457.35,311.75 458.16,312.12 458.96,312.48 459.76,312.85 460.56,313.21 461.36,313.57 462.16,313.93 462.97,314.29 463.77,314.65 464.57,315.00 465.37,315.35 466.17,315.71 466.98,316.06 467.78,316.41 468.58,316.75 469.38,317.10 470.18,317.44 470.99,317.79 471.79,318.13 472.59,318.47 473.39,318.81 474.19,319.14 475.00,319.48 475.80,319.81 476.60,320.15 477.40,320.48 478.20,320.81 479.00,321.14 479.81,321.46 480.61,321.79 481.41,322.11 482.21,322.44 483.01,322.76 483.82,323.08 484.62,323.40 485.42,323.72 486.22,324.03 487.02,324.35 487.82,324.66 488.63,324.98 489.43,325.29 490.23,325.60 491.03,325.91 491.83,326.21 492.64,326.52 493.44,326.83 494.24,327.13 495.04,327.43 495.84,327.73 496.65,328.03 497.45,328.33 498.25,328.63 499.05,328.93 499.85,329.22 500.66,329.52 501.46,329.81 502.26,330.10 503.06,330.39 503.86,330.68 504.66,330.97 505.47,331.26 506.27,331.55 507.07,331.83 507.87,332.12 508.67,332.40 509.48,332.68 510.28,332.96 511.08,333.24 511.88,333.52 512.68,333.80 513.49,334.07 514.29,334.35 515.09,334.62 515.89,334.90 516.69,335.17 517.49,335.44 518.30,335.71 519.10,335.98 519.90,336.25 520.70,336.51 521.50,336.78 522.31,337.05 523.11,337.31 523.91,337.57 524.71,337.83 525.51,338.10 526.31,338.36 527.12,338.61 527.92,338.87 528.72,339.13 529.52,339.39 530.32,339.64 531.13,339.89 531.93,340.15 532.73,340.40 533.53,340.65 534.33,340.90 535.14,341.15 535.94,341.40 536.74,341.65 537.54,341.89 538.34,342.14 539.14,342.39 539.95,342.63 540.75,342.87 541.55,343.12 542.35,343.36 543.15,343.60 543.96,343.84 544.76,344.08 545.56,344.31 546.36,344.55 547.16,344.79 547.97,345.02 548.77,345.26 549.57,345.49 550.37,345.72 551.17,345.96 551.98,346.19 552.78,346.42 553.58,346.65 554.38,346.88 555.18,347.10 555.98,347.33 556.79,347.56 557.59,347.78 558.39,348.01 559.19,348.23 559.99,348.45 560.80,348.68 561.60,348.90 562.40,349.12 563.20,349.34 564.00,349.56 564.81,349.78 565.61,349.99 566.41,350.21 567.21,350.43 568.01,350.64 568.81,350.86 569.62,351.07 570.42,351.28 571.22,351.50 572.02,351.71 572.82,351.92 573.63,352.13 574.43,352.34 575.23,352.55 576.03,352.76 576.83,352.96 577.63,353.17 578.44,353.38 579.24,353.58 580.04,353.79 580.84,353.99 581.64,354.19 582.45,354.40 583.25,354.60 584.05,354.80 584.85,355.00 585.65,355.20 586.46,355.40 587.26,355.60 588.06,355.80 588.86,355.99 589.66,356.19 590.46,356.39 591.27,356.58 592.07,356.78 592.87,356.97 593.67,357.16 594.47,357.36 595.28,357.55 596.08,357.74 596.88,357.93 597.68,358.12 598.48,358.31 599.29,358.50 600.09,358.69 600.89,358.88 601.69,359.06 602.49,359.25 603.29,359.44 604.10,359.62 604.90,359.81 605.70,359.99 606.50,360.17 607.30,360.36 608.11,360.54 608.91,360.72 609.71,360.90 610.51,361.08 611.31,361.26 612.12,361.44 612.92,361.62 613.72,361.80 614.52,361.98 615.32,362.15 616.12,362.33 616.93,362.51 617.73,362.68 618.53,362.86 619.33,363.03 620.13,363.21 620.94,363.38 621.74,363.55 622.54,363.72 623.34,363.90 624.14,364.07 624.95,364.24 625.75,364.41 626.55,364.58 627.35,364.75 628.15,364.92 628.96,365.08 629.76,365.25 630.56,365.42 631.36,365.58 632.16,365.75 632.96,365.92 633.77,366.08 634.57,366.25 635.37,366.41 636.17,366.57 636.97,366.74 637.78,366.90 638.58,367.06 639.38,367.22 640.18,367.38 640.98,367.54 641.79,367.70 642.59,367.86 643.39,368.02 644.19,368.18 644.99,368.34 645.79,368.50 646.60,368.65 647.40,368.81 648.20,368.97 649.00,369.12 649.80,369.28 650.61,369.43 651.41,369.59 652.21,369.74 653.01,369.89 653.81,370.05 654.62,370.20 655.42,370.35 656.22,370.50 657.02,370.66 657.82,370.81 658.62,370.96 659.43,371.11 660.23,371.26 661.03,371.41 661.83,371.55 662.63,371.70 663.44,371.85 664.24,372.00 665.04,372.14 665.84,372.29 666.64,372.44 667.45,372.58 668.25,372.73 669.05,372.87 669.85,373.02 670.65,373.16 671.45,373.30 672.26,373.45 673.06,373.59 673.86,373.73 674.66,373.87 675.46,374.02 676.27,374.16 677.07,374.30 677.87,374.44 678.67,374.58 679.47,374.72 680.27,374.86 681.08,375.00 681.88,375.13 682.68,375.27 683.48,375.41 684.28,375.55 685.09,375.68 685.89,375.82 686.69,375.96 687.49,376.09 688.29,376.23 689.10,376.36 689.90,376.50 690.70,376.63 691.50,376.76 692.30,376.90 693.10,377.03 693.91,377.16 694.71,377.30 695.51,377.43 696.31,377.56 697.11,377.69 697.92,377.82 698.72,377.95 699.52,378.08 700.32,378.21 701.12,378.34 701.93,378.47 702.73,378.60 703.53,378.73 704.33,378.86 705.13,378.98 705.94,379.11 706.74,379.24 707.54,379.37 708.34,379.49 709.14,379.62 709.94,379.74 710.75,379.87 711.55,379.99 712.35,380.12 713.15,380.24 713.95,380.37 714.76,380.49 715.56,380.61 716.36,380.74 717.16,380.86 717.96,380.98 718.76,381.10 719.57,381.23 720.37,381.35 721.17,381.47 721.97,381.59 722.77,381.71 723.58,381.83 724.38,381.95 725.18,382.07 725.98,382.19 726.78,382.31 727.59,382.43 728.39,382.54 729.19,382.66 729.99,382.78 730.79,382.90 731.60,383.01 732.40,383.13 733.20,383.25 734.00,383.36 734.80,383.48 735.60,383.59 736.41,383.71 737.21,383.82 738.01,383.94 738.81,384.05 739.61,384.17 740.42,384.28 741.22,384.39 742.02,384.51 742.82,384.62 743.62,384.73 744.42,384.85 745.23,384.96 746.03,385.07 746.83,385.18 747.63,385.29 748.43,385.40 749.24,385.51 750.04,385.62 750.84,385.73 751.64,385.84 752.44,385.95 753.25,386.06 754.05,386.17 754.85,386.28 755.65,386.39 756.45,386.50 757.25,386.60 758.06,386.71 758.86,386.82 759.66,386.93 760.46,387.03 761.26,387.14 762.07,387.25 762.87,387.35 763.67,387.46 764.47,387.56 765.27,387.67 766.08,387.77 766.88,387.88 767.68,387.98 768.48,388.09 769.28,388.19 770.09,388.29 770.89,388.40 771.69,388.50 772.49,388.60 773.29,388.71 774.09,388.81 774.90,388.91 775.70,389.01 776.50,389.11" fill="none" stroke="#808000" stroke-width="3" stroke-linejoin="round" stroke-dasharray="12 5.46 3.5 5.46"/>
<line x1="199.15" y1="472.3" x2="199.15" y2="32.50" stroke="#000" stroke-width="3" stroke-dasharray="1 5.4614"/>
<line x1="134.5" y1="262.71" x2="776.50" y2="262.71" stroke="#000" stroke-width="3" stroke-dasharray="1 5.4621"/>
<rect x="197.65" y="54.3" width="3" height="1" fill="#000"/>
<rect x="135.0" y="32.5" width="641.5" height="439.5" fill="none" stroke="#000" stroke-width="3"/>
<line x1="584.0" y1="85.5" x2="730.0" y2="85.5" stroke="#ff0000" stroke-width="3" />
<line x1="584.0" y1="122.4" x2="730.0" y2="122.4" stroke="#0000ff" stroke-width="3" stroke-dasharray="7.6 11.483"/>
<line x1="584.0" y1="158.6" x2="730.0" y2="158.6" stroke="#808000" stroke-width="3" stroke-dasharray="12 5.46 3.5 5.46"/>
<g fill="none" stroke="#000" stroke-linecap="round" stroke-linejoin="round"><path d="M454.85 552.6L453.55 560.7" stroke-width="1.7" stroke-linecap="butt"/><path d="M449.0 555.3C449.5 553.6 450.9 551.6 452.4 551.5C453.3 551.5 453.9 552.0 454.3 552.9" stroke-width="0.7"/><path d="M449.6 561.0C450.0 562.0 451.0 562.2 452.0 561.8C452.8 561.4 453.3 561.0 453.6 560.4" stroke-width="0.7"/><path d="M455.2 553.0C455.7 552.0 456.6 551.4 457.5 551.5C458.3 551.6 458.8 552.0 458.9 552.8" stroke-width="0.7"/><path d="M453.6 560.5C454.0 561.6 454.9 562.1 455.9 562.0C457.3 561.8 458.3 560.6 458.8 558.9" stroke-width="0.7"/><circle cx="449.5" cy="560.7" r="0.95" fill="#000" stroke="none"/><circle cx="458.8" cy="552.9" r="0.95" fill="#000" stroke="none"/></g>
<path d="M514.8 82.70h15.1M514.8 88.80h15.1" stroke="#000" stroke-width="1" fill="none"/>
<path d="M514.8 119.50h15.1M514.8 125.60h15.1" stroke="#000" stroke-width="1" fill="none"/>
<path d="M514.8 155.80h15.1M514.8 161.90h15.1" stroke="#000" stroke-width="1" fill="none"/>
<path d="M18.0 308.0Q29.5 317.6 41.0 308.0Q29.5 315.2 18.0 308.0Z" fill="#000" stroke="#000" stroke-width="0.45" stroke-linejoin="round"/>
<path d="M18.2 167.2Q29.7 156.4 41.2 167.2Q29.7 158.8 18.2 167.2Z" fill="#000" stroke="#000" stroke-width="0.45" stroke-linejoin="round"/>
<g opacity="0.999">
<text x="115.6" y="479.00" text-anchor="end">0</text>
<text x="115.6" y="374.36" text-anchor="end">0.5</text>
<text x="115.6" y="269.71" text-anchor="end">1</text>
<text x="115.6" y="165.07" text-anchor="end">1.5</text>
<text x="115.6" y="60.43" text-anchor="end">2</text>
<text x="133.80" y="512.7" text-anchor="middle">0</text>
<text x="197.95" y="512.7" text-anchor="middle">1</text>
<text x="262.10" y="512.7" text-anchor="middle">2</text>
<text x="326.25" y="512.7" text-anchor="middle">3</text>
<text x="390.40" y="512.7" text-anchor="middle">4</text>
<text x="454.55" y="512.7" text-anchor="middle">5</text>
<text x="518.70" y="512.7" text-anchor="middle">6</text>
<text x="582.85" y="512.7" text-anchor="middle">7</text>
<text x="647.00" y="512.7" text-anchor="middle">8</text>
<text x="711.15" y="512.7" text-anchor="middle">9</text>
<text x="775.30" y="512.7" text-anchor="middle">10</text>
<text x="467" y="91.8" style="font-style:italic;font-size:23px;stroke-width:0.1px" textLength="12.5" lengthAdjust="spacingAndGlyphs">α</text>
<text x="481" y="95.1" style="font-size:15.5px;stroke-width:0.1px" textLength="25.5" lengthAdjust="spacingAndGlyphs">circ</text>
<text x="538.3" y="91.8">2</text>
<text x="467" y="128.6" style="font-style:italic;font-size:23px;stroke-width:0.1px" textLength="12.5" lengthAdjust="spacingAndGlyphs">α</text>
<text x="481" y="131.9" style="font-size:15.5px;stroke-width:0.1px" textLength="25.5" lengthAdjust="spacingAndGlyphs">circ</text>
<text x="538.3" y="128.6">3</text>
<text x="467" y="164.9" style="font-style:italic;font-size:23px;stroke-width:0.1px" textLength="12.5" lengthAdjust="spacingAndGlyphs">α</text>
<text x="481" y="168.2" style="font-size:15.5px;stroke-width:0.1px" textLength="25.5" lengthAdjust="spacingAndGlyphs">circ</text>
<text x="538.3" y="164.9">4</text>
<text transform="translate(36.2 346.10) rotate(-90)" textLength="22.9" lengthAdjust="spacingAndGlyphs" style="font-size:23px;stroke-width:0.15px;font-style:italic">M</text>
<text transform="translate(36.2 307.80) rotate(-90)" textLength="54.9" lengthAdjust="spacingAndGlyphs" style="font-size:23px;stroke-width:0.15px;">Mach</text>
<text transform="translate(36.2 243.40) rotate(-90)" textLength="76.2" lengthAdjust="spacingAndGlyphs" style="font-size:23px;stroke-width:0.15px;">number</text>
</g>
</svg>
</body></html>
